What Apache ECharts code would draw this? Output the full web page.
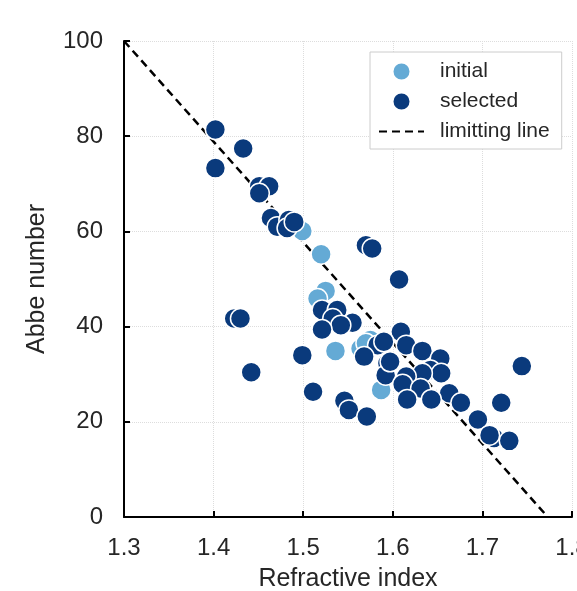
<!DOCTYPE html>
<html>
<head>
<meta charset="utf-8">
<script src="https://cdn.jsdelivr.net/npm/echarts@6/dist/echarts.min.js"></script>
<style>
html, body { margin: 0; padding: 0; background: #fff; }
#chart { width: 577px; height: 591px; }
</style>
</head>
<body>
<div id="chart"></div>
<script>
// refractive index / abbe number
var initialPoints = [
    [1.499, 60.1], [1.520, 55.2], [1.525, 47.5], [1.516, 45.9],
    [1.536, 34.9], [1.564, 35.4], [1.575, 37.2], [1.587, 26.7],
    [1.570, 36.5]
];
var selectedPoints = [
    [1.402, 81.4], [1.433, 77.4], [1.402, 73.3], [1.451, 69.5],
    [1.462, 69.5], [1.451, 68.0], [1.464, 62.8], [1.471, 61.0],
    [1.484, 62.4], [1.482, 60.7], [1.490, 62.0],
    [1.570, 57.1], [1.577, 56.4], [1.607, 49.9],
    [1.521, 43.5], [1.538, 43.5], [1.533, 41.7], [1.555, 40.8],
    [1.542, 40.3], [1.521, 39.4], [1.423, 41.7], [1.430, 41.7],
    [1.499, 34.0], [1.442, 30.4], [1.583, 36.1], [1.568, 33.7],
    [1.594, 32.3], [1.592, 29.8], [1.511, 26.3], [1.546, 24.4],
    [1.551, 22.5], [1.571, 21.1],
    [1.609, 38.9], [1.590, 36.8], [1.615, 36.1], [1.633, 34.9],
    [1.653, 33.3], [1.597, 32.6], [1.642, 30.9], [1.654, 30.2],
    [1.633, 30.2], [1.615, 29.5], [1.611, 27.9], [1.631, 27.0],
    [1.663, 26.0], [1.616, 24.7], [1.643, 24.7], [1.676, 24.0],
    [1.744, 31.7], [1.721, 24.0], [1.695, 20.5], [1.713, 16.6],
    [1.708, 17.2], [1.730, 16.0]
];
var limitLine = [[1.3, 100], [1.773, 0]];
var xTicks = [1.3, 1.4, 1.5, 1.6, 1.7, 1.8];
var yTicks = [0, 20, 40, 60, 80, 100];

var fontName = 'Liberation Sans';
var chart = echarts.init(document.getElementById('chart'), null, {renderer: 'canvas'});

option = {
    animation: false,
    textStyle: { fontFamily: fontName },
    grid: { left: 124, right: 5, top: 41, bottom: 74, outerBoundsMode: 'none', containLabel: false },
    legend: {
        left: 370, top: 52,
        orient: 'vertical',
        backgroundColor: '#fff',
        borderColor: '#cccccc',
        borderWidth: 1,
        borderRadius: 0,
        padding: [9, 12, 7, 8],
        itemWidth: 45,
        itemHeight: 18,
        itemGap: 9,
        textStyle: { fontSize: 21, color: '#262626', fontFamily: fontName, padding: [0, 0, 0, 11] },
        data: [
            { name: 'initial', icon: 'circle' },
            { name: 'selected', icon: 'circle' },
            // line series legend always adds a symbol, hide it
            { name: 'limitting line', itemStyle: { color: 'rgba(0,0,0,0)', borderColor: 'rgba(0,0,0,0)', borderWidth: 0 } }
        ]
    },
    xAxis: {
        type: 'value',
        min: xTicks[0], max: xTicks[xTicks.length - 1], interval: 0.1,
        name: 'Refractive index',
        nameLocation: 'middle',
        nameGap: 50,
        nameTextStyle: { fontSize: 25, color: '#262626' },
        axisLine: { lineStyle: { color: '#000', width: 2 } },
        axisTick: { inside: true, length: 6, lineStyle: { color: '#000', width: 2 } },
        axisLabel: {
            fontSize: 24, color: '#262626', margin: 19,
            formatter: function (v) { return v.toFixed(1); }
        },
        splitLine: { show: true, lineStyle: { color: '#dddddd', type: 'dotted', width: 1 } }
    },
    yAxis: {
        type: 'value',
        min: yTicks[0], max: yTicks[yTicks.length - 1], interval: 20,
        name: 'Abbe number',
        nameLocation: 'middle',
        nameGap: 74,
        nameTextStyle: { fontSize: 25, color: '#262626' },
        axisLine: { show: true, lineStyle: { color: '#000', width: 2 } },
        axisTick: { show: true, inside: true, length: 6, lineStyle: { color: '#000', width: 2 } },
        axisLabel: { fontSize: 24, color: '#262626', margin: 21 },
        splitLine: { show: true, lineStyle: { color: '#dddddd', type: 'dotted', width: 1 } }
    },
    series: [
        {
            name: 'limitting line',
            type: 'line',
            data: limitLine,
            symbol: 'none',
            z: 1,
            lineStyle: { color: '#000', width: 2.5, type: [8, 5] },
            itemStyle: { color: '#000' }
        },
        {
            name: 'initial',
            type: 'scatter',
            data: initialPoints,
            symbolSize: 20,
            z: 2,
            itemStyle: { color: '#64aad5', borderColor: '#fff', borderWidth: 1.5, opacity: 1 }
        },
        {
            name: 'selected',
            type: 'scatter',
            data: selectedPoints,
            symbolSize: 20,
            z: 3,
            itemStyle: { color: '#0a3a7c', borderColor: '#fff', borderWidth: 1.5, opacity: 1 }
        }
    ]
};
chart.setOption(option);
</script>
</body>
</html>
